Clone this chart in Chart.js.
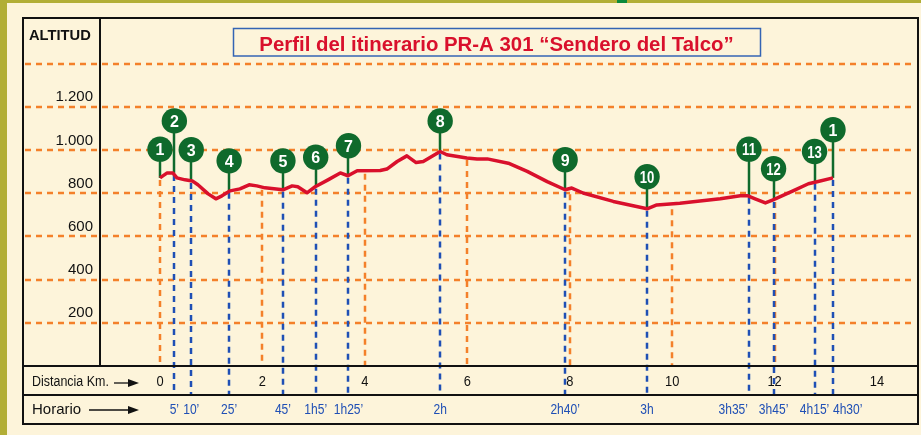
<!DOCTYPE html>
<html>
<head>
<meta charset="utf-8">
<title>Perfil PR-A 301</title>
<script src="https://cdn.jsdelivr.net/npm/chart.js@4.4.1/dist/chart.umd.min.js"></script>
<style>
  html, body { margin: 0; padding: 0; background: #fdf4da; }
  #perfil { display: block; }
</style>
</head>
<body>
<canvas id="perfil" width="921" height="435"></canvas>
<script>
// perfil del recorrido (km, altitud en m)
const profileKm = [0, 0.14, 0.25, 0.33, 0.49, 0.63, 0.74, 0.94, 1.09, 1.21, 1.37, 1.56, 1.74, 1.89, 2.05,
  2.40, 2.58, 2.69, 2.87, 3.03, 3.28, 3.52, 3.67, 3.85, 4.30, 4.43, 4.63, 4.82, 5.00, 5.14, 5.47, 5.60,
  5.99, 6.19, 6.39, 6.80, 7.17, 7.56, 7.91, 8.04, 8.26, 8.85, 9.51, 9.70, 10.15, 10.41, 10.94, 11.33,
  11.48, 11.62, 11.82, 11.97, 12.36, 12.66, 12.83, 13.14];
const profileAlt = [871, 894, 894, 871, 862, 857, 839, 797, 774, 788, 811, 820, 839, 834, 825,
  816, 834, 830, 802, 830, 862, 894, 881, 904, 905, 912, 947, 973, 942, 947, 993, 978,
  963, 958, 959, 939, 901, 854, 816, 824, 801, 762, 728, 746, 754, 760, 774, 788,
  788, 774, 755, 769, 811, 844, 853, 871];

// puntos del itinerario
const waypointLabels = ['1', '2', '3', '4', '5', '6', '7', '8', '9', '10', '11', '12', '13', '1'];
const waypointKm = [0, 0.28, 0.61, 1.35, 2.40, 3.04, 3.68, 5.47, 7.91, 9.51, 11.50, 11.98, 12.78, 13.14];
const waypointTop = [1004, 1135, 1001, 950, 950, 967, 1020, 1135, 955, 876, 1004, 913, 993, 1094];
const waypointBase = [871, 894, 857, 811, 816, 830, 881, 993, 816, 728, 788, 769, 853, 871];
const waypointTime = ['', '5’', '10’', '25’', '45’', '1h5’', '1h25’', '2h', '2h40’', '3h', '3h35’', '3h45’', '4h15’', '4h30’'];

// ejes
const kmTicks = [0, 2, 4, 6, 8, 10, 12, 14];
const dropKm = [0, 2, 4, 6, 8, 10, 12];
const dropAlt = [871, 825, 900, 963, 805, 735, 769];
const altTicks = [200, 400, 600, 800, 1000, 1200];
const altTickLabels = ['200', '400', '600', '800', '1.000', '1.200'];
const altGrid = [200, 400, 600, 800, 1000, 1200, 1400];

const titleText = 'Perfil del itinerario PR-A 301 “Sendero del Talco”';

const cream = '#fdf4da';
const olive = '#b2ae36';
const orange = '#f4802a';
const blue = '#1f4fb5';
const green = '#0f6a2c';
const red = '#d9102c';

// alineación de las horas que se solapan
const timeAlign = { 10: 'right', 13: 'left' };

function seg(ctx, x1, y1, x2, y2) {
  ctx.beginPath();
  ctx.moveTo(x1, y1);
  ctx.lineTo(x2, y2);
  ctx.stroke();
}

function label(ctx, str, x, y, font, color, align, squeeze) {
  ctx.save();
  ctx.font = font;
  ctx.fillStyle = color;
  ctx.textAlign = align || 'left';
  ctx.textBaseline = 'alphabetic';
  ctx.translate(x, y);
  ctx.scale(squeeze || 1, 1);
  ctx.fillText(str, 0, 0);
  ctx.restore();
}

function arrow(ctx, x1, x2, y) {
  ctx.save();
  ctx.strokeStyle = '#111';
  ctx.fillStyle = '#111';
  ctx.lineWidth = 1.3;
  seg(ctx, x1, y, x2 - 8, y);
  ctx.beginPath();
  ctx.moveTo(x2, y);
  ctx.lineTo(x2 - 11, y - 4);
  ctx.lineTo(x2 - 11, y + 4);
  ctx.closePath();
  ctx.fill();
  ctx.restore();
}

const perfilPlugin = {
  id: 'perfil',
  beforeDraw(chart) {
    const ctx = chart.ctx;
    ctx.save();
    ctx.fillStyle = cream;
    ctx.fillRect(0, 0, chart.width, chart.height);
    ctx.fillStyle = olive;
    ctx.fillRect(0, 0, chart.width, 3);
    ctx.fillRect(0, 0, 7, chart.height);
    ctx.fillStyle = '#0b8a3c';
    ctx.fillRect(617, 0, 10, 3);
    ctx.restore();
  },
  beforeDatasetsDraw(chart) {
    const { ctx, scales: { x, y } } = chart;
    const bottom = y.getPixelForValue(0);
    ctx.save();
    ctx.lineWidth = 2.5;
    ctx.strokeStyle = orange;
    ctx.setLineDash([6, 5]);
    altGrid.forEach(v => {
      const py = Math.round(y.getPixelForValue(v));
      seg(ctx, 25, py, 916, py);
    });
    dropKm.forEach((k, i) => {
      const px = Math.round(x.getPixelForValue(k));
      seg(ctx, px, y.getPixelForValue(dropAlt[i]) + 2, px, bottom);
    });
    ctx.strokeStyle = blue;
    waypointKm.forEach((k, i) => {
      if (!waypointTime[i]) return;
      const px = Math.round(x.getPixelForValue(k));
      seg(ctx, px, y.getPixelForValue(waypointBase[i]) + 2, px, 395);
    });
    ctx.setLineDash([]);
    ctx.strokeStyle = green;
    waypointKm.forEach((k, i) => {
      const px = Math.round(x.getPixelForValue(k));
      seg(ctx, px, y.getPixelForValue(waypointTop[i]), px, y.getPixelForValue(waypointBase[i]));
    });
    ctx.restore();
  },
  afterDatasetsDraw(chart) {
    const ctx = chart.ctx;
    const meta = chart.getDatasetMeta(1);
    meta.data.forEach((pt, i) => {
      const txt = waypointLabels[i];
      label(ctx, txt, pt.x, pt.y + 6, 'bold 16px "Liberation Sans", Arial, sans-serif', '#fff', 'center', txt.length > 1 ? 0.82 : 1);
    });
  },
  afterDraw(chart) {
    const { ctx, scales: { x, y } } = chart;
    ctx.save();
    // marco
    ctx.strokeStyle = '#111';
    ctx.lineWidth = 2;
    ctx.strokeRect(23, 18, 895, 406);
    seg(ctx, 100, 18, 100, 366);
    seg(ctx, 23, 366, 918, 366);
    seg(ctx, 23, 395, 918, 395);

    // título
    ctx.strokeStyle = '#3464b4';
    ctx.lineWidth = 1.5;
    ctx.strokeRect(233.5, 28.5, 527, 27.5);
    ctx.restore();
    label(ctx, titleText, 496.5, 50.5, 'bold 20.4px "Liberation Sans", Arial, sans-serif', red, 'center');

    // eje de altitud
    label(ctx, 'ALTITUD', 29, 40, 'bold 15px "Liberation Sans", Arial, sans-serif', '#111', 'left', 0.98);
    altTicks.forEach((v, i) => {
      label(ctx, altTickLabels[i], 93, y.getPixelForValue(v) - 5.5, '15px "Liberation Sans", Arial, sans-serif', '#111', 'right');
    });

    // distancias
    label(ctx, 'Distancia Km.', 32, 386, '14px "Liberation Sans", Arial, sans-serif', '#111', 'left', 0.89);
    arrow(ctx, 114, 139, 383);
    kmTicks.forEach(k => {
      label(ctx, String(k), x.getPixelForValue(k), 386, '14px "Liberation Sans", Arial, sans-serif', '#111', 'center', 0.92);
    });

    // horario
    label(ctx, 'Horario', 32, 414, '15px "Liberation Sans", Arial, sans-serif', '#111', 'left');
    arrow(ctx, 89, 139, 410);
    waypointKm.forEach((k, i) => {
      if (!waypointTime[i]) return;
      const align = timeAlign[i] || 'center';
      let px = x.getPixelForValue(k);
      if (align === 'right') px -= 1;
      label(ctx, waypointTime[i], px, 414, '14px "Liberation Sans", Arial, sans-serif', blue, align, 0.86);
    });
  }
};

new Chart(document.getElementById('perfil'), {
  type: 'line',
  data: {
    datasets: [{
      label: 'Perfil',
      data: profileKm.map((k, i) => ({ x: k, y: profileAlt[i] })),
      borderColor: red,
      borderWidth: 3.5,
      pointRadius: 0,
      tension: 0,
      borderJoinStyle: 'round'
    }, {
      label: 'Puntos',
      data: waypointKm.map((k, i) => ({ x: k, y: waypointTop[i] })),
      showLine: false,
      pointRadius: 12.7,
      pointBackgroundColor: green,
      pointBorderWidth: 0,
      pointHoverRadius: 12.7
    }]
  },
  plugins: [perfilPlugin],
  options: {
    responsive: false,
    animation: false,
    devicePixelRatio: 1,
    layout: { autoPadding: false, padding: { left: 100, top: 17, right: 3, bottom: 69 } },
    scales: {
      x: { type: 'linear', min: -1.1716, max: 14.80, display: false },
      y: { type: 'linear', min: 0, max: 1616, display: false }
    },
    plugins: {
      legend: { display: false },
      tooltip: { enabled: false }
    },
    events: []
  }
});
</script>
</body>
</html>
